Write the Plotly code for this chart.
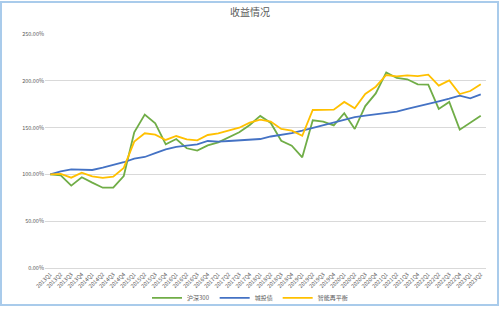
import plotly.graph_objects as go

quarters = [f"{y}Q{q}" for y in range(2013, 2024) for q in range(1, 5)][:42]

hs300 = [100, 99, 88, 96.9, 91.2, 85.8, 85.8, 98.3, 145, 164, 154.6, 132.1, 137.8, 127.9,
         125.4, 131, 134.3, 139.6, 145, 152.8, 162.5, 155, 136, 130.7, 118.2, 157.8, 156.3,
         152.4, 165.3, 148.5, 173, 186.5, 209, 203, 201.6, 196.2, 195.9, 169.9, 177.4, 147.8,
         155.3, 162.7]
ctz = [100, 103.3, 105.4, 105.4, 104.7, 107.2, 110, 113, 116.8, 118.6, 122.7, 126.8, 129.3,
       130.7, 132.1, 135.7, 135, 135.7, 136.4, 137.8, 137.8, 140.5, 142.1, 144.2, 146.7, 149.6,
       152, 154.9, 157.8, 161.3, 162.7, 164.4, 165.6, 167, 169.9, 172.8, 176, 178.1, 180.9,
       184.1, 181.3, 185.5]
smart = [100, 100.5, 96.5, 101.8, 98, 96.2, 97.6, 107, 135, 143.9, 142.5, 136.8, 141, 137.5,
         136.4, 142.1, 143.9, 146.7, 149.9, 155.3, 158.5, 156.5, 148.5, 146.7, 141.3, 168.8,
         169.1, 169.1, 177.4, 170.6, 185.9, 193.7, 206.2, 204.8, 205.8, 205.1, 206.5, 194.8,
         200.5, 185.9, 189.1, 196.2]

series_names = ["沪深300", "城投债", "智能再平衡"]
y_ticks = [0, 50, 100, 150, 200, 250]
y_ticktext = [f"{v:.2f}%" for v in y_ticks]

colors = ["#70ad47", "#4472c4", "#ffc000"]
font_family = "Noto Sans CJK SC, Noto Sans, sans-serif"

fig = go.Figure()
for name, vals, c in zip(series_names, [hs300, ctz, smart], colors):
    fig.add_trace(go.Scatter(x=quarters, y=vals, mode="lines", name=name,
                             line=dict(color=c, width=1.8)))

fig.update_layout(
    width=500, height=309,
    margin=dict(l=45, r=14, t=34, b=41, autoexpand=False),
    paper_bgcolor="white", plot_bgcolor="white",
    font=dict(family=font_family, color="#595959", size=6),
    title=dict(text="收益情况", x=0.5, xanchor="center", xref="container",
               y=0.958, yanchor="middle", yref="container",
               font=dict(size=10, color="#595959", family=font_family)),
    showlegend=True,
    legend=dict(orientation="h", x=0.5, xanchor="center", xref="container",
                y=0.036, yanchor="middle", yref="container",
                font=dict(size=6, color="#595959"), itemwidth=30, tracegroupgap=0,
                bgcolor="rgba(0,0,0,0)"),
    xaxis=dict(type="category", range=[-0.5, 41.5], tickangle=-45, automargin=False,
               showgrid=False, showline=True, linecolor="#d9d9d9", linewidth=1,
               ticks="", tickfont=dict(size=5.5, color="#595959"), fixedrange=True),
    yaxis=dict(range=[0, 250], tickvals=y_ticks, ticktext=y_ticktext, automargin=False,
               showgrid=True, gridcolor="#d9d9d9", gridwidth=1, zeroline=False,
               ticks="", tickfont=dict(size=5.5, color="#595959"), fixedrange=True),
)

fig.add_shape(type="rect", xref="paper", yref="paper",
              x0=-44/441, x1=1 + 12/441, y0=-37/234, y1=1 + 32/234,
              line=dict(color="#a9cbeb", width=2), fillcolor="rgba(0,0,0,0)", layer="below")

fig.write_html("out.html")
